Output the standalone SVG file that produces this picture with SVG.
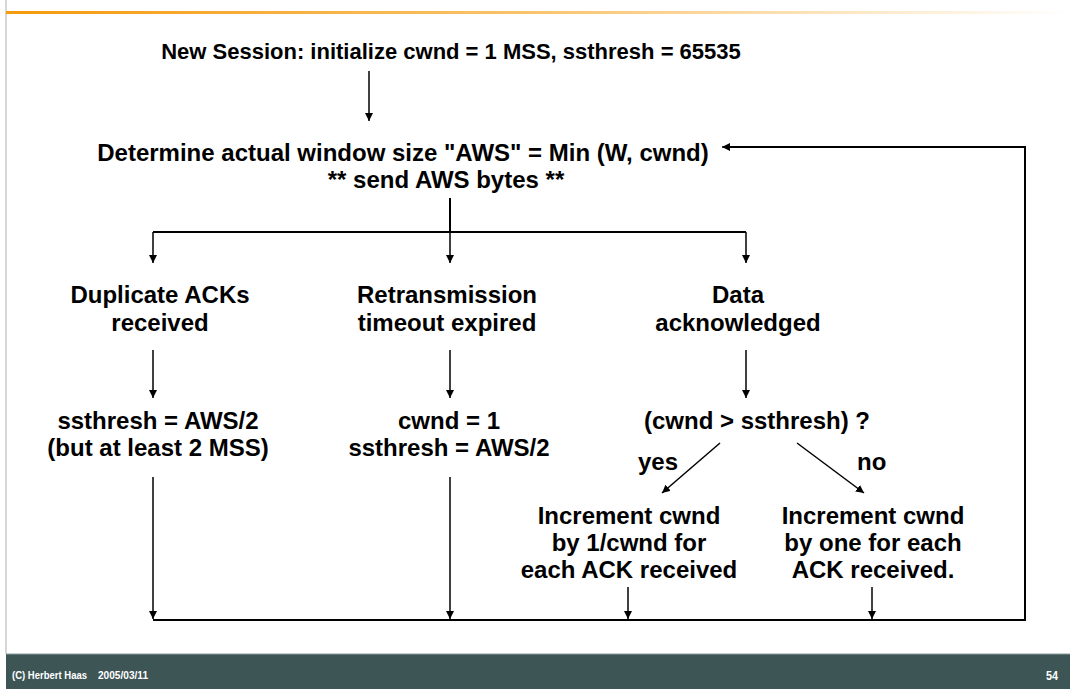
<svg xmlns="http://www.w3.org/2000/svg" width="1070" height="689" viewBox="0 0 1070 689">
  <defs>
    <linearGradient id="rule" x1="0" y1="0" x2="1" y2="0">
      <stop offset="0" stop-color="#F59A0C"/>
      <stop offset="0.5" stop-color="#F9C46E"/>
      <stop offset="1" stop-color="#FFFFFF"/>
    </linearGradient>
    <marker id="arrow" viewBox="0 0 10 10" refX="10" refY="5" markerWidth="8" markerHeight="8" markerUnits="userSpaceOnUse" orient="auto">
      <path d="M0,0 L10,5 L0,10 z" fill="#000"/>
    </marker>
  </defs>
  <style>
    .t { font-family: "Liberation Sans", Arial, sans-serif; font-weight: bold; font-size: 24px; fill: #000; text-anchor: middle; }
    .title { font-size: 22px; }
    .s { text-anchor: start; }
    .c { fill: none; stroke: #000; stroke-width: 2; }
    .a { fill: none; stroke: #000; stroke-width: 1.5; marker-end: url(#arrow); }
    .f { font-family: "Liberation Sans Narrow", "Liberation Sans", Arial, sans-serif; font-weight: bold; font-size: 10px; fill: #FFFFFF; }
    .fb { font-size: 12px; }
  </style>

  <!-- page frame -->
  <rect x="0" y="0" width="1070" height="689" fill="#FFFFFF"/>
  <line x1="6" y1="0" x2="6" y2="654" stroke="#C8C8C8" stroke-width="1.5"/>
  <rect x="6" y="11" width="1064" height="3" fill="url(#rule)"/>

  <!-- footer -->
  <rect x="6" y="654" width="1064" height="35" fill="#3E5556"/>
  <line x1="6" y1="654" x2="1070" y2="654" stroke="#8A9A9A" stroke-width="1"/>
  <text class="f" x="12" y="679" textLength="75" lengthAdjust="spacingAndGlyphs">(C) Herbert Haas</text>
  <text class="f" x="98" y="679" textLength="50" lengthAdjust="spacingAndGlyphs">2005/03/11</text>
  <text class="f fb" x="1046" y="680" textLength="12" lengthAdjust="spacingAndGlyphs">54</text>

  <!-- nodes -->
  <g id="start">
    <text class="t title" x="451" y="59">New Session: initialize cwnd = 1 MSS, ssthresh = 65535</text>
  </g>
  <g id="determine">
    <text class="t" x="403" y="161">Determine actual window size "AWS" = Min (W, cwnd)</text>
    <text class="t" x="446" y="188">** send AWS bytes **</text>
  </g>
  <g id="dupacks">
    <text class="t" x="160" y="303">Duplicate ACKs</text>
    <text class="t" x="160" y="331">received</text>
  </g>
  <g id="timeout">
    <text class="t" x="447" y="303">Retransmission</text>
    <text class="t" x="447" y="331">timeout expired</text>
  </g>
  <g id="acked">
    <text class="t" x="738" y="303">Data</text>
    <text class="t" x="738" y="331">acknowledged</text>
  </g>
  <g id="halve">
    <text class="t" x="158" y="429">ssthresh = AWS/2</text>
    <text class="t" x="158" y="456">(but at least 2 MSS)</text>
  </g>
  <g id="reset">
    <text class="t" x="449" y="429">cwnd = 1</text>
    <text class="t" x="449" y="456">ssthresh = AWS/2</text>
  </g>
  <g id="compare">
    <text class="t" x="757" y="429">(cwnd &gt; ssthresh) ?</text>
  </g>
  <g id="avoidance">
    <text class="t" x="629" y="524">Increment cwnd</text>
    <text class="t" x="629" y="551">by 1/cwnd for</text>
    <text class="t" x="629" y="578">each ACK received</text>
  </g>
  <g id="slowstart">
    <text class="t" x="873" y="524">Increment cwnd</text>
    <text class="t" x="873" y="551">by one for each</text>
    <text class="t" x="873" y="578">ACK received.</text>
  </g>

  <!-- connectors -->
  <g id="connectors">
    <line class="a" x1="369" y1="71" x2="369" y2="121"/>
    <polyline class="c" points="450,198 450,232"/>
    <polyline class="c" points="153,232 746,232"/>
    <line class="a" x1="153" y1="232" x2="153" y2="263"/>
    <line class="a" x1="450" y1="232" x2="450" y2="263"/>
    <line class="a" x1="746" y1="232" x2="746" y2="263"/>
    <line class="a" x1="153" y1="350" x2="153" y2="398"/>
    <line class="a" x1="450" y1="350" x2="450" y2="398"/>
    <line class="a" x1="746" y1="350" x2="746" y2="398"/>
    <line class="a" x1="720" y1="443" x2="662" y2="493"/>
    <line class="a" x1="797" y1="443" x2="864" y2="493"/>
    <text class="t s" x="638" y="470">yes</text>
    <text class="t s" x="857" y="470">no</text>
    <line class="a" x1="153" y1="477" x2="153" y2="619"/>
    <line class="a" x1="450" y1="477" x2="450" y2="619"/>
    <line class="a" x1="628" y1="587" x2="628" y2="619"/>
    <line class="a" x1="872" y1="587" x2="872" y2="619"/>
    <polyline class="c" points="153,620 1025,620 1025,147 730,147"/>
    <line class="a" x1="732" y1="147" x2="722" y2="147"/>
  </g>
</svg>
